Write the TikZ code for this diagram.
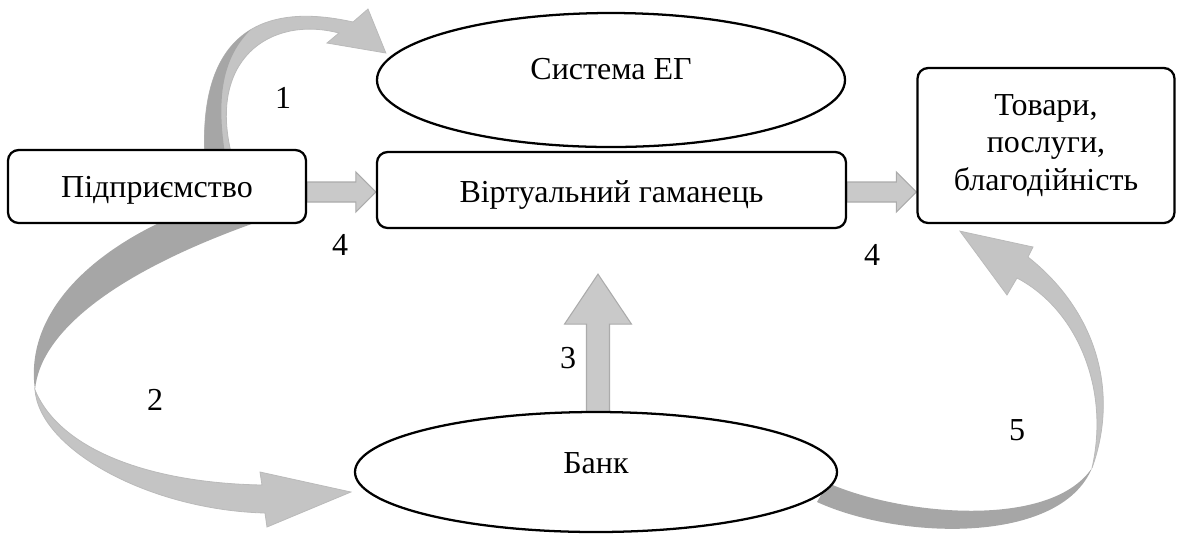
\documentclass[tikz,border=0pt]{standalone}
\usepackage{fontspec}
\setmainfont{Liberation Serif}
\usetikzlibrary{calc,shapes.geometric}
\pgfdeclarelayer{background}
\pgfsetlayers{background,main}
\def\px{0.375pt}
\newcommand\hblockarrow[2]{%
  \path[flat] ($(#1)+(0,-10)$) -- ($(#2)+(-20,-10)$) -- ($(#2)+(-20,-20)$) -- (#2)
    -- ($(#2)+(-20,20)$) -- ($(#2)+(-20,10)$) -- ($(#1)+(0,10)$) -- cycle;}
\begin{document}
\begin{tikzpicture}[x=0.375pt, y=-0.375pt,
  every node/.style={font=\fontsize{12}{14}\selectfont},
  box/.style={draw, fill=white, line width=0.85pt, rounded corners=4pt, inner sep=0pt},
  oval/.style={draw, fill=white, ellipse, line width=0.85pt, inner sep=0pt},
  lbl/.style={inner sep=0pt},
  flat/.style={fill=black!21, draw=black!33, line width=0.4pt},
  rdark/.style={fill=black!35, draw=none},
  rlight/.style={fill=black!23, draw=black!27, line width=0.3pt}]

\useasboundingbox (0,0) rectangle (1177,535);

% nodes
\node[box, minimum width=298*\px, minimum height=73*\px, text height=7.9pt, text depth=0pt] (firm) at (157,186.5) {Підприємство};
\node[box, minimum width=469*\px, minimum height=76*\px, text height=9pt, text depth=0pt] (wallet) at (611.5,190) {Віртуальний гаманець};
\node[box, minimum width=257*\px, minimum height=155*\px, align=center] (goods) at (1046,145.5) {Товари,\\послуги,\\благодійність};
\node[oval, minimum width=468*\px, minimum height=134*\px, text height=7.5pt, text depth=8.2pt] (sys) at (611,80) {Система ЕГ};
\node[oval, minimum width=482*\px, minimum height=120*\px, text height=8pt, text depth=6.9pt] (bank) at (596,472) {Банк};

% labels
\node[lbl] (n1) at (283,98) {1};
\node[lbl] (n4a) at (340,245) {4};
\node[lbl] (n4b) at (872,255) {4};
\node[lbl] (n3) at (568,358) {3};
\node[lbl] (n2) at (155,400) {2};
\node[lbl] (n5) at (1017,430) {5};

% anchor coordinates
\coordinate (a1t) at ($(wallet.west)+(0,2)$);
\coordinate (a1s) at (firm.east |- a1t);
\coordinate (a4s) at ($(wallet.east)+(0,2)$);
\coordinate (a4t) at (goods.west |- a4s);
\coordinate (a3t) at ($(bank.north |- wallet.south)+(2,45)$);
\coordinate (a3s) at (a3t |- bank.north);
\coordinate (r1t) at ($(sys.west)+(10,-27)$);
\coordinate (r2t) at ($(bank.west)+(-3,20)$);
\coordinate (r5t) at ($(goods.south)+(-86,7)$);

\begin{pgfonlayer}{background}
% ribbon 1: firm -> sys
\begin{scope}
  \path[rlight] (205,160) .. controls (198,40) and (255,0) .. (353,22) -- (368,9) -- (r1t) -- (327,43) -- (339,33)
     .. controls (270,15) and (205,60) .. (233,160) -- cycle;
  \clip (205,160) .. controls (198,40) and (255,0) .. (353,22) -- (339,33)
     .. controls (270,15) and (205,60) .. (233,160) -- cycle;
  \fill[black!35] (150,160) -- (226,160) .. controls (215,95) and (222,50) .. (262,20) -- (262,0) -- (150,0) -- cycle;
\end{scope}
% ribbon 2: firm -> bank
\path[rdark] (163,221) .. controls (80,260) and (25,320) .. (35,390) .. controls (40,330) and (120,270) .. (260,221) -- cycle;
\path[rlight] (35,390) .. controls (40,450) and (150,510) .. (265,513) -- (267,527) -- (r2t) -- (260,472) -- (262,485)
   .. controls (150,483) and (60,450) .. (35,390) -- cycle;
% ribbon 5: bank -> goods
\path[rdark] (828,483) .. controls (900,515) and (1050,530) .. (1092,468) .. controls (1060,545) and (900,540) .. (817,502) -- cycle;
\path[rlight] (1092,468) .. controls (1120,390) and (1095,310) .. (1028,257) -- (1033,247) -- (r5t) -- (1007,295) -- (1017,278)
   .. controls (1078,310) and (1110,390) .. (1092,468) -- cycle;
% straight block arrows
\hblockarrow{a1s}{a1t}
\hblockarrow{a4s}{a4t}
\path[flat] ($(a3s)+(-11.5,2)$) -- ($(a3t)+(-11.5,50)$) -- ($(a3t)+(-33.5,50)$) -- (a3t)
   -- ($(a3t)+(33.5,50)$) -- ($(a3t)+(11.5,50)$) -- ($(a3s)+(11.5,2)$) -- cycle;
\end{pgfonlayer}
\end{tikzpicture}
\end{document}
